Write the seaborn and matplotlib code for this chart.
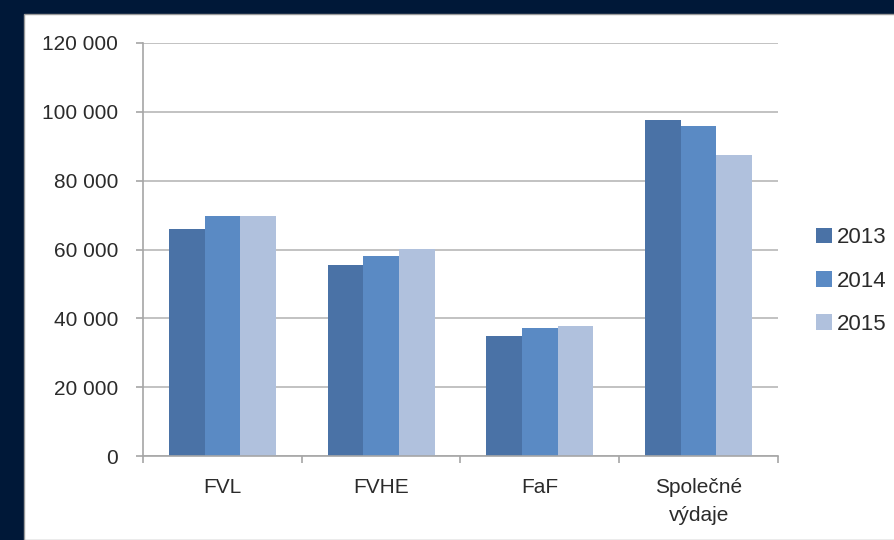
import pandas as pd
import matplotlib.pyplot as plt
import matplotlib as mpl
import matplotlib.ticker as mticker
import seaborn as sns

# Chart data
categories = ["FVL", "FVHE", "FaF", "Společné\nvýdaje"]
years = ["2013", "2014", "2015"]
values_2013 = [66100, 55400, 35000, 97700]
values_2014 = [69800, 58100, 37300, 95800]
values_2015 = [69700, 60200, 37800, 87600]
y_ticks = [0, 20000, 40000, 60000, 80000, 100000, 120000]

palette = {"2013": "#4A72A6", "2014": "#5A8AC4", "2015": "#B0C1DD"}

rows = []
for year, vals in zip(years, [values_2013, values_2014, values_2015]):
    for cat, v in zip(categories, vals):
        rows.append({"category": cat, "year": year, "value": v})
df = pd.DataFrame(rows)

sns.set_style("white")
plt.rcParams["font.family"] = ["Liberation Sans", "DejaVu Sans"]
text_color = "#2b2b2b"

fig = plt.figure(figsize=(8.95, 5.4), dpi=100)
fig.patch.set_facecolor("#001838")
# white slide panel, kept behind the axes
panel = mpl.patches.Rectangle((24 / 895, 0), 1, 1 - 14 / 540,
                              transform=fig.transFigure,
                              facecolor="white", edgecolor="#9a9a9a",
                              linewidth=1, zorder=-10)
fig.add_artist(panel)

ax = fig.add_axes([143 / 895, 1 - 456 / 540, (778 - 143) / 895, (456 - 43) / 540])
ax.set_facecolor("none")

sns.barplot(data=df, x="category", y="value", hue="year", order=categories,
            hue_order=years, palette=palette, width=0.675, saturation=1,
            edgecolor="none", ax=ax)

ax.set_ylim(0, 120000)
ax.set_xlim(-0.5, len(categories) - 0.5)
ax.set_yticks(y_ticks)
ax.yaxis.set_major_formatter(mticker.FuncFormatter(lambda v, p: f"{int(v):,}".replace(",", " ")))
ax.yaxis.grid(True, color="#BDBDBD", linewidth=1.3)
ax.set_axisbelow(True)
ax.set_xlabel("")
ax.set_ylabel("")

# category tick marks sit at the boundaries between groups
ax.set_xticks(range(len(categories)))
ax.set_xticklabels(categories, linespacing=1.6)
ax.tick_params(axis="x", length=0, pad=16, labelsize=15, labelcolor=text_color)
ax.set_xticks([i + 0.5 for i in range(-1, len(categories))], minor=True)
ax.tick_params(axis="x", which="minor", length=5, color="#A6A6A6", width=1.2, bottom=True)
ax.tick_params(axis="y", length=5, color="#A6A6A6", width=1.2, pad=13,
               labelsize=15, labelcolor=text_color, left=True)

for side in ["top", "right"]:
    ax.spines[side].set_visible(False)
for side in ["left", "bottom"]:
    ax.spines[side].set_color("#A6A6A6")
    ax.spines[side].set_linewidth(1.2)

leg = ax.legend(loc="center left", bbox_to_anchor=(816 / 895, 1 - 281 / 540),
                bbox_transform=fig.transFigure, frameon=False, fontsize=16,
                handlelength=0.7, handleheight=0.7, handletextpad=0.25,
                labelspacing=1.0, borderaxespad=0, borderpad=0)
for t in leg.get_texts():
    t.set_color(text_color)

fig.savefig("out.png", dpi=100, facecolor=fig.get_facecolor())
